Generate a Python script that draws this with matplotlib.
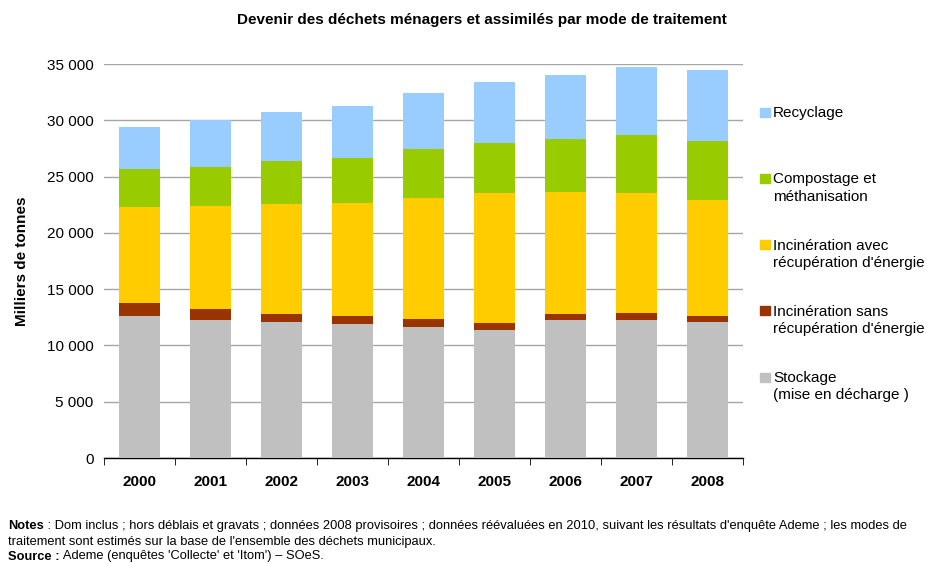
import numpy as np
import matplotlib
matplotlib.use("Agg")
import matplotlib.pyplot as plt
from matplotlib.patches import Rectangle
from matplotlib.ticker import FuncFormatter, FixedLocator

plt.rcParams['font.family'] = ['Liberation Sans', 'DejaVu Sans']

# Données (milliers de tonnes)
annees = ['2000', '2001', '2002', '2003', '2004', '2005', '2006', '2007', '2008']
stockage = [12570, 12270, 12090, 11920, 11680, 11410, 12300, 12300, 12120]
incin_sans = [1210, 1010, 740, 650, 710, 620, 530, 620, 450]
incin_avec = [8480, 9070, 9690, 10050, 10670, 11470, 10760, 10580, 10310]
compostage = [3440, 3530, 3820, 4000, 4360, 4450, 4710, 5160, 5250]
recyclage = [3730, 4180, 4420, 4680, 4980, 5420, 5690, 6050, 6310]

series = [
    ('Stockage\n(mise en décharge )', stockage, '#C0C0C0'),
    ("Incinération sans\nrécupération d'énergie", incin_sans, '#993300'),
    ("Incinération avec\nrécupération d'énergie", incin_avec, '#FFCC00'),
    ('Compostage et\nméthanisation', compostage, '#99CC00'),
    ('Recyclage', recyclage, '#99CCFF'),
]

fig = plt.figure(figsize=(9.28, 5.64), dpi=100)
ax = fig.add_axes([104 / 928, 1 - 458 / 564, 639 / 928, 394 / 564])

x = np.arange(len(annees))
bottom = np.zeros(len(annees))
for label, vals, color in series:
    ax.bar(x, vals, width=0.59, bottom=bottom, color=color, edgecolor='none', zorder=3)
    bottom += np.array(vals)

ax.set_xlim(-0.5, len(annees) - 0.5)
ax.set_ylim(0, 35000)
ax.set_yticks(np.arange(0, 35001, 5000))
ax.yaxis.set_major_formatter(FuncFormatter(lambda v, p: f"{int(v):,}".replace(',', ' ')))
ax.yaxis.grid(True, color='#A6A6A6', linewidth=1)
ax.set_axisbelow(True)
ax.tick_params(axis='y', length=0, labelsize=11, pad=7.5)

ax.set_xticks(x)
ax.set_xticklabels(annees, fontweight='bold', fontsize=11)
ax.tick_params(axis='x', length=0, pad=12.5)
ax.xaxis.set_minor_locator(FixedLocator(np.arange(-0.5, len(annees), 1)))
ax.tick_params(axis='x', which='minor', length=5, direction='out', color='black')

for s in ['top', 'right', 'left']:
    ax.spines[s].set_visible(False)
ax.spines['bottom'].set_color('black')
ax.spines['bottom'].set_linewidth(1)

ax.set_ylabel('Milliers de tonnes', fontweight='bold', fontsize=11, labelpad=12.5)

fig.text(482 / 928, 1 - 20 / 564, 'Devenir des déchets ménagers et assimilés par mode de traitement',
         ha='center', va='center', fontweight='bold', fontsize=11)

# Légende (ordre inversé : Recyclage en haut)
for i, (label, vals, color) in enumerate(reversed(series)):
    yc = 112 + 66.3 * i
    fig.add_artist(Rectangle((760 / 928, 1 - (yc + 4.5) / 564), 10 / 928, 9 / 564,
                             transform=fig.transFigure, color=color))
    fig.text(773 / 928, 1 - (yc - 6) / 564, label, ha='left', va='top', fontsize=11,
             linespacing=1.3)

# Notes et source
fig.canvas.draw()
r = fig.canvas.get_renderer()
def mixed(y, bold, rest):
    t = fig.text(8 / 928, 1 - y / 564, bold, fontweight='bold', fontsize=9.3, va='center')
    w = t.get_window_extent(renderer=r).width
    fig.text((8 + w) / 928, 1 - y / 564, rest, fontsize=9.3, va='center')

mixed(526, 'Notes', " : Dom inclus ; hors déblais et gravats ; données 2008 provisoires ; données réévaluées en 2010, "
      "suivant les résultats d'enquête Ademe ; les modes de")
fig.text(8 / 928, 1 - 542 / 564, "traitement sont estimés sur la base de l'ensemble des déchets municipaux.",
         fontsize=9.3, va='center')
mixed(556.5, 'Source :', " Ademe (enquêtes 'Collecte' et 'Itom') – SOeS.")

fig.savefig('out.png', dpi=100)
